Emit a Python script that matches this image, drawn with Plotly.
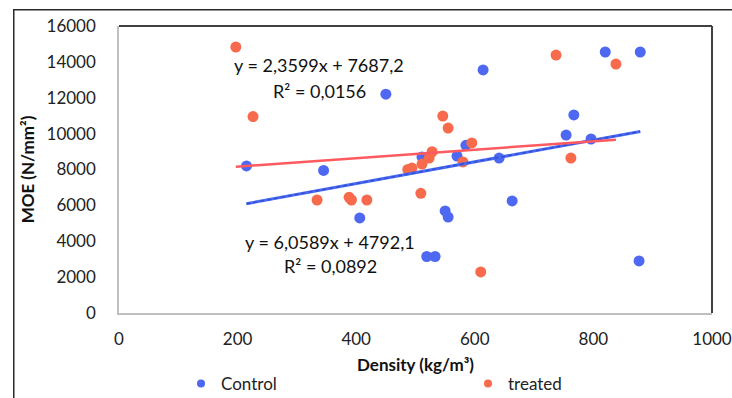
import plotly.graph_objects as go

# ---- data ----
control_density = [215, 345, 450, 406, 614, 585, 570, 641, 511, 754,
                   767, 820, 879, 796, 550, 555, 519, 533, 663, 877]
control_moe = [8200, 7950, 12200, 5300, 13550, 9350, 8750, 8640, 8700, 9920,
               11040, 14550, 14550, 9700, 5690, 5350, 3150, 3150, 6250, 2900]

treated_density = [197, 226, 334, 388, 392, 418, 509, 487, 494, 511,
                   523, 528, 546, 555, 595, 580, 737, 762, 838, 610]
treated_moe = [14830, 10950, 6300, 6450, 6300, 6300, 6670, 8000, 8080, 8300,
               8640, 8990, 10980, 10310, 9480, 8420, 14380, 8640, 13880, 2290]

# trendline coefficients as printed on the chart
control_slope, control_intercept = 6.0589, 4792.1
treated_slope, treated_intercept = 2.3599, 7687.2

x_ticks = [0, 200, 400, 600, 800, 1000]
x_tick_labels = ["0", "200", "400", "600", "800", "1000"]
y_ticks = [0, 2000, 4000, 6000, 8000, 10000, 12000, 14000, 16000]
y_tick_labels = ["0", "2000", "4000", "6000", "8000", "10000", "12000", "14000", "16000"]

BLUE = "#4F68F2"
ORANGE = "#F76A4C"
FONT = "Lato"

fig = go.Figure()

fig.add_trace(go.Scatter(
    x=control_density, y=control_moe, mode="markers", name="Control", showlegend=False,
    marker=dict(color=BLUE, size=11, line=dict(width=0))))
fig.add_trace(go.Scatter(
    x=treated_density, y=treated_moe, mode="markers", name="treated", showlegend=False,
    marker=dict(color=ORANGE, size=11, line=dict(width=0))))

# legend entries (smaller legend symbols, as in the reference)
fig.add_trace(go.Scatter(
    x=[None], y=[None], mode="markers", name="Control", legend="legend",
    marker=dict(color=BLUE, size=8)))
fig.add_trace(go.Scatter(
    x=[None], y=[None], mode="markers", name="treated", legend="legend2",
    marker=dict(color=ORANGE, size=8)))

# trendlines
cx = [min(control_density), max(control_density)]
tx = [min(treated_density), max(treated_density)]
fig.add_trace(go.Scatter(
    x=cx, y=[control_slope * v + control_intercept for v in cx], mode="lines",
    line=dict(color="#4A6AF0", width=3), showlegend=False, hoverinfo="skip"))
fig.add_trace(go.Scatter(
    x=cx, y=[control_slope * v + control_intercept for v in cx], mode="lines",
    line=dict(color="#2E4FD6", width=1.5, dash="4px,3px"), showlegend=False, hoverinfo="skip"))
fig.add_trace(go.Scatter(
    x=tx, y=[treated_slope * v + treated_intercept for v in tx], mode="lines",
    line=dict(color="#FF5A5F", width=2.5), showlegend=False, hoverinfo="skip"))

# equation labels
ann_font = dict(family=FONT, size=18, color="#111111")
labels = [
    (337, 13820, "y = 2,3599x + 7687,2"),
    (338, 12375, "R² = 0,0156"),
    (356, 3958, "y = 6,0589x + 4792,1"),
    (357, 2620, "R² = 0,0892"),
]
for x, y, t in labels:
    fig.add_annotation(x=x, y=y, text=t, showarrow=False, font=ann_font,
                       xanchor="center", yanchor="middle")

# frame pieces (pixel geometry -> paper coordinates)
L, R, T, B = 119, 712, 26, 313
W, H = 732, 398
def px(p):
    return (p - L) / (R - L)
def py(p):
    return (B - p) / (B - T)

# outer chart frame: a box whose left/top edges sit at (13, 9) px, others off-canvas
fig.add_annotation(xref="paper", yref="paper", x=px(13), y=py(9), xanchor="left", yanchor="top",
                   text="", showarrow=False, width=W + 20, height=H + 20,
                   bordercolor="#2a2a2a", borderwidth=1.5, borderpad=0, bgcolor="rgba(0,0,0,0)")

shapes = [
    dict(type="line", xref="paper", yref="paper", x0=0, x1=1, y0=1, y1=1,
         line=dict(color="#404040", width=2)),
    dict(type="line", xref="paper", yref="paper", x0=1, x1=1, y0=0, y1=1,
         line=dict(color="#404040", width=2)),
]

legend_common = dict(orientation="h", yanchor="middle", xanchor="left", y=py(384),
                     font=dict(family=FONT, size=17, color="#222222"),
                     bgcolor="rgba(0,0,0,0)", borderwidth=0)

fig.update_layout(
    width=W, height=H,
    margin=dict(l=L, r=W - R, t=T, b=H - B, autoexpand=False),
    paper_bgcolor="white", plot_bgcolor="white",
    font=dict(family=FONT, size=17, color="#222222"),
    shapes=shapes,
    showlegend=True,
    legend=dict(x=px(181), **legend_common),
    legend2=dict(x=px(468), **legend_common),
    xaxis=dict(range=[0, 1000], tickvals=x_ticks, ticktext=x_tick_labels, ticks="",
               showgrid=False, zeroline=False,
               showline=True, linecolor="#BFBFBF", linewidth=1.5,
               ticklabelstandoff=10,
               title=dict(text="<b>Density (kg/m³)</b>", standoff=11,
                          font=dict(family=FONT, size=17, color="#111111"))),
    yaxis=dict(range=[0, 16000], tickvals=y_ticks, ticktext=y_tick_labels, ticks="",
               showgrid=False, zeroline=False,
               showline=True, linecolor="#BFBFBF", linewidth=1.5,
               ticklabelstandoff=18,
               title=dict(text="<b>MOE (N/mm²)</b>", standoff=8,
                          font=dict(family=FONT, size=17, color="#111111"))),
)

fig.write_html("out.html", config={"displayModeBar": False},
               post_script="document.body.style.margin='0';document.body.style.overflow='hidden';")
